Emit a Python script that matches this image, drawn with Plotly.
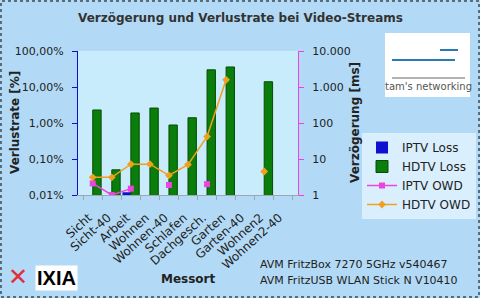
import plotly.graph_objects as go

categories = ["Sicht", "Sicht-40", "Arbeit", "Wohnen", "Wohnen-40", "Schlafen",
              "Dachgesch.", "Garten", "Garten-40", "Wohnen2", "Wohnen2-40"]
iptv_loss = [None, None, 0.012, None, None, None, None, None, None, None, None]   # %
hdtv_loss = [2.3, 0.05, 1.9, 2.6, 0.88, 1.4, 30, 36, None, 14, None]             # %
iptv_owd = [2.1, 1.0, 1.5, None, 1.9, None, 2.0, None, None, None, None]         # ms
hdtv_owd = [3.1, 3.1, 7.2, 7.2, 3.5, 7.0, 42, 1580, None, 4.5, None]             # ms

left_tickvals = [0.01, 0.1, 1, 10, 100]
left_ticktext = ["0,01%", "0,10%", "1,00%", "10,00%", "100,00%"]
right_tickvals = [1, 10, 100, 1000, 10000]
right_ticktext = ["1", "10", "100", "1.000", "10.000"]

W, H = 480, 298
FONT = "DejaVu Sans"
x0, x1 = 78 / W, 298 / W
yb, yt = 1 - 195 / H, 1 - 51 / H

fig = go.Figure()
fig.add_trace(go.Bar(x=categories, y=iptv_loss, name="IPTV Loss",
                     marker=dict(color="#1010d0", line=dict(width=0))))
fig.add_trace(go.Bar(x=categories, y=hdtv_loss, name="HDTV Loss",
                     marker=dict(color="#0a7d0a", line=dict(color="#064d06", width=1))))
fig.add_trace(go.Scatter(x=categories, y=iptv_owd, name="IPTV OWD", yaxis="y2",
                         mode="lines+markers", connectgaps=False,
                         line=dict(color="#ee44dd", width=1.5),
                         marker=dict(symbol="square", size=6, color="#ee44dd")))
fig.add_trace(go.Scatter(x=categories, y=hdtv_owd, name="HDTV OWD", yaxis="y2",
                         mode="lines+markers", connectgaps=False,
                         line=dict(color="#f0a020", width=1.5),
                         marker=dict(symbol="diamond", size=6, color="#f0a020")))

fig.update_layout(
    width=W, height=H,
    margin=dict(l=0, r=0, t=0, b=0, autoexpand=False),
    paper_bgcolor="#b2daf6",
    plot_bgcolor="#c8ecfc",
    font=dict(family=FONT, size=11, color="#222222"),
    barmode="group", bargap=0.12, bargroupgap=0.0,
    showlegend=True,
    legend=dict(x=476 / W, y=1 - 133 / H, xanchor="right", yanchor="top",
                bgcolor="rgba(225,242,255,0.85)", borderwidth=0,
                font=dict(family=FONT, size=12, color="#222222"),
                tracegroupgap=0, itemwidth=30, itemsizing="trace"),
    xaxis=dict(domain=[x0, x1], tickangle=-42, showgrid=False,
               showline=True, linecolor="#9aa8b0", linewidth=1,
               ticks="outside", tickson="boundaries", ticklen=4, tickcolor="#9aa8b0",
               ticklabelstandoff=10, ticklabelshift=-4,
               tickfont=dict(family=FONT, size=12, color="#222222")),
    yaxis=dict(domain=[yb, yt], type="log", range=[-2, 2], showgrid=False,
               showline=True, linecolor="#1010c8", linewidth=1,
               ticks="outside", ticklen=5, tickcolor="#1010c8",
               ticklabelstandoff=6,
               tickvals=left_tickvals, ticktext=left_ticktext,
               tickfont=dict(family=FONT, size=11, color="#222222"), zeroline=False),
    yaxis2=dict(type="log", range=[0, 4], overlaying="y", side="right", anchor="x",
                showgrid=False, showline=True, linecolor="#ee44dd", linewidth=1,
                ticks="outside", ticklen=5, tickcolor="#ee44dd",
                ticklabelstandoff=6,
                tickvals=right_tickvals, ticktext=right_ticktext,
                tickfont=dict(family=FONT, size=11, color="#222222"), zeroline=False),
)

ann = [
    dict(text="<b>Verzögerung und Verlustrate bei Video-Streams</b>", x=240 / W, y=1 - 18 / H,
         font=dict(size=12, color="#333333")),
    dict(text="<b>Verlustrate [%]</b>", x=15 / W, y=1 - 123 / H, textangle=-90,
         font=dict(size=12, color="#222222")),
    dict(text="<b>Verzögerung [ms]</b>", x=355 / W, y=1 - 123 / H, textangle=-90,
         font=dict(size=12, color="#222222")),
    dict(text="<b>Messort</b>", x=188 / W, y=1 - 279 / H,
         font=dict(size=12, color="#222222")),
    dict(text="AVM FritzBox 7270 5GHz v540467", x=258 / W, y=1 - 264 / H, xanchor="left",
         font=dict(size=11, color="#222222")),
    dict(text="AVM FritzUSB WLAN Stick N V10410", x=258 / W, y=1 - 280 / H, xanchor="left",
         font=dict(size=11, color="#222222")),
    dict(text="<b>IXIA</b>", x=56 / W, y=1 - 278 / H, bgcolor="#ffffff",
         font=dict(family="Liberation Sans", size=20, color="#000000"), borderpad=1),
    dict(text="<b>✕</b>", x=18 / W, y=1 - 277 / H,
         font=dict(size=24, color="#e0303a")),
    dict(text="tam's networking", x=428 / W, y=1 - 86 / H,
         font=dict(size=10, color="#555555")),
]
for a in ann:
    a.setdefault("xref", "paper")
    a.setdefault("yref", "paper")
    a.setdefault("showarrow", False)
    a.setdefault("xanchor", "center")
    a.setdefault("yanchor", "middle")
fig.update_layout(annotations=ann)

shapes = [
    dict(type="rect", xref="paper", yref="paper", x0=385 / W, x1=470 / W,
         y0=1 - 97 / H, y1=1 - 33 / H, fillcolor="#ffffff", line=dict(width=0), layer="below"),
    dict(type="line", xref="paper", yref="paper", x0=392 / W, x1=455 / W,
         y0=1 - 60 / H, y1=1 - 60 / H, line=dict(color="#2a7ab8", width=2)),
    dict(type="line", xref="paper", yref="paper", x0=440 / W, x1=458 / W,
         y0=1 - 50 / H, y1=1 - 50 / H, line=dict(color="#2a7ab8", width=2)),
    dict(type="line", xref="paper", yref="paper", x0=392 / W, x1=465 / W,
         y0=1 - 78 / H, y1=1 - 78 / H, line=dict(color="#666666", width=1)),
    dict(type="rect", xref="paper", yref="paper", x0=1 / W, x1=479 / W,
         y0=1 / H, y1=1 - 1 / H, line=dict(color="#000000", width=1, dash="dot")),
]
fig.update_layout(shapes=shapes)

fig.write_html("out.html")
